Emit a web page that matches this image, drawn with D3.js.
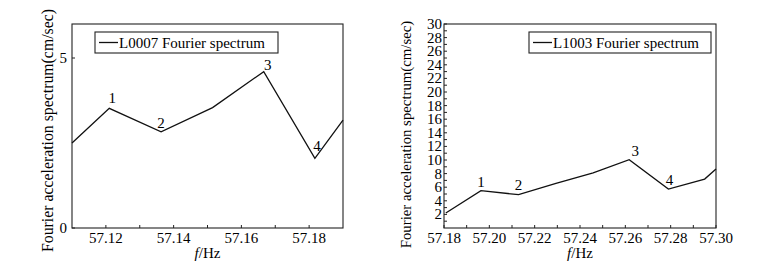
<!DOCTYPE html>
<html>
<head>
<meta charset="utf-8">
<script src="https://cdn.jsdelivr.net/npm/d3@7"></script>
<style>
  body { margin: 0; background: #fff; }
  svg { display: block; }
  text { font-family: "Liberation Serif", "Times New Roman", serif; fill: #000; }
</style>
</head>
<body>
<script>
// left panel: L0007
var freqL = [57.11, 57.121, 57.1363, 57.1515, 57.1666, 57.1817, 57.19];
var ampL = [2.5, 3.52, 2.83, 3.54, 4.6, 2.05, 3.17];
var peakIdxL = [1, 2, 4, 5];
var xTicksL = [57.12, 57.14, 57.16, 57.18];
var xMinorL = [57.13, 57.15, 57.17];
var yTicksL = [0, 5];

// right panel: L1003
var freqR = [57.1808, 57.1963, 57.2129, 57.2294, 57.2458, 57.2617, 57.279, 57.295, 57.30];
var ampR = [2.2, 5.49, 4.9, 6.55, 8.1, 10.04, 5.73, 7.2, 8.68];
var peakIdxR = [1, 2, 5, 6];
var xTicksR = [57.18, 57.20, 57.22, 57.24, 57.26, 57.28, 57.30];
var xMinorR = [57.19, 57.21, 57.23, 57.25, 57.27, 57.29];
var yTicksR = d3.range(2, 31, 2);
var yMinorR = d3.range(1, 30, 2);

var peakLabels = ["1", "2", "3", "4"];

var svg = d3.select("body").append("svg")
    .attr("width", 776)
    .attr("height", 271);

function drawPanel(o) {
    var x = d3.scaleLinear().domain(o.xDomain).range([o.left, o.right]);
    var y = d3.scaleLinear().domain(o.yDomain).range([o.bottom, o.top]);
    var g = svg.append("g");

    g.append("rect")
        .attr("x", o.left).attr("y", o.top)
        .attr("width", o.right - o.left).attr("height", o.bottom - o.top)
        .attr("fill", "none").attr("stroke", "#222").attr("stroke-width", 1.1);

    // ticks point inward
    g.selectAll(".xt").data(o.xTicks.concat(o.xMinor)).enter().append("line")
        .attr("x1", d => x(d)).attr("x2", d => x(d))
        .attr("y1", o.bottom).attr("y2", o.bottom - 3)
        .attr("stroke", "#222");
    g.selectAll(".yt").data(o.yTicks.concat(o.yMinor)).enter().append("line")
        .attr("x1", o.left).attr("x2", o.left + 3)
        .attr("y1", d => y(d)).attr("y2", d => y(d))
        .attr("stroke", "#222");

    g.selectAll(".xl").data(o.xTicks).enter().append("text")
        .attr("x", d => x(d)).attr("y", o.bottom + 15)
        .attr("text-anchor", "middle")
        .style("font-size", o.fs + "px")
        .text(d => d.toFixed(2));
    g.selectAll(".yl").data(o.yTicks).enter().append("text")
        .attr("x", o.left - o.yGap).attr("y", d => y(d) + 5)
        .attr("text-anchor", "end")
        .style("font-size", o.fs + "px")
        .text(d => d);

    var xl = g.append("text")
        .attr("x", (o.left + o.right) / 2).attr("y", o.bottom + 30)
        .attr("text-anchor", "middle")
        .style("font-size", o.fs + "px");
    xl.append("tspan").style("font-style", "italic").text("f");
    xl.append("tspan").text("/Hz");

    g.append("text")
        .attr("transform", "translate(" + o.yLabelX + "," + o.yLabelY + ") rotate(-90)")
        .attr("text-anchor", "middle")
        .style("font-size", o.yfs + "px")
        .text("Fourier acceleration spectrum(cm/sec)");

    var line = d3.line().x((d, i) => x(o.freq[i])).y(d => y(d));
    g.append("path")
        .datum(o.amp)
        .attr("d", line)
        .attr("fill", "none").attr("stroke", "#111").attr("stroke-width", 1.3);

    g.selectAll(".pk").data(o.peakIdx).enter().append("text")
        .attr("x", (d, i) => x(o.freq[d]) + o.peakDx[i])
        .attr("y", (d, i) => y(o.amp[d]) - o.peakDy[i])
        .attr("text-anchor", "middle")
        .style("font-size", o.fs + "px")
        .text((d, i) => peakLabels[i]);

    // legend
    g.append("rect")
        .attr("x", o.leg[0]).attr("y", o.leg[1])
        .attr("width", o.leg[2]).attr("height", o.leg[3])
        .attr("fill", "#fff").attr("stroke", "#222").attr("stroke-width", 1.1);
    g.append("line")
        .attr("x1", o.leg[0] + 4).attr("x2", o.leg[0] + 23)
        .attr("y1", o.leg[1] + o.leg[3] / 2).attr("y2", o.leg[1] + o.leg[3] / 2)
        .attr("stroke", "#111").attr("stroke-width", 1.3);
    g.append("text")
        .attr("x", o.leg[0] + 24).attr("y", o.leg[1] + o.leg[3] / 2 + 5)
        .style("font-size", o.fs + "px")
        .text(o.name + " Fourier spectrum");
}

drawPanel({
    name: "L0007", freq: freqL, amp: ampL, peakIdx: peakIdxL,
    peakDx: [3, 0, 4, 2], peakDy: [5.5, 4, 2, 7],
    xDomain: [57.11, 57.19], yDomain: [0, 6],
    xTicks: xTicksL, xMinor: xMinorL, yTicks: yTicksL, yMinor: [],
    left: 72, right: 343, top: 24, bottom: 228,
    fs: 15, yfs: 15.8, yGap: 5, yLabelX: 53, yLabelY: 130.5,
    leg: [95, 32, 183, 21]
});

drawPanel({
    name: "L1003", freq: freqR, amp: ampR, peakIdx: peakIdxR,
    peakDx: [0, 0, 6, 1], peakDy: [3.3, 4.3, 3.3, 4],
    xDomain: [57.18, 57.30], yDomain: [0, 30],
    xTicks: xTicksR, xMinor: xMinorR, yTicks: yTicksR, yMinor: yMinorR,
    left: 444, right: 716, top: 24, bottom: 228,
    fs: 15, yfs: 14.8, yGap: 2, yLabelX: 411, yLabelY: 134.5,
    leg: [529, 32, 182, 21]
});
</script>
</body>
</html>
